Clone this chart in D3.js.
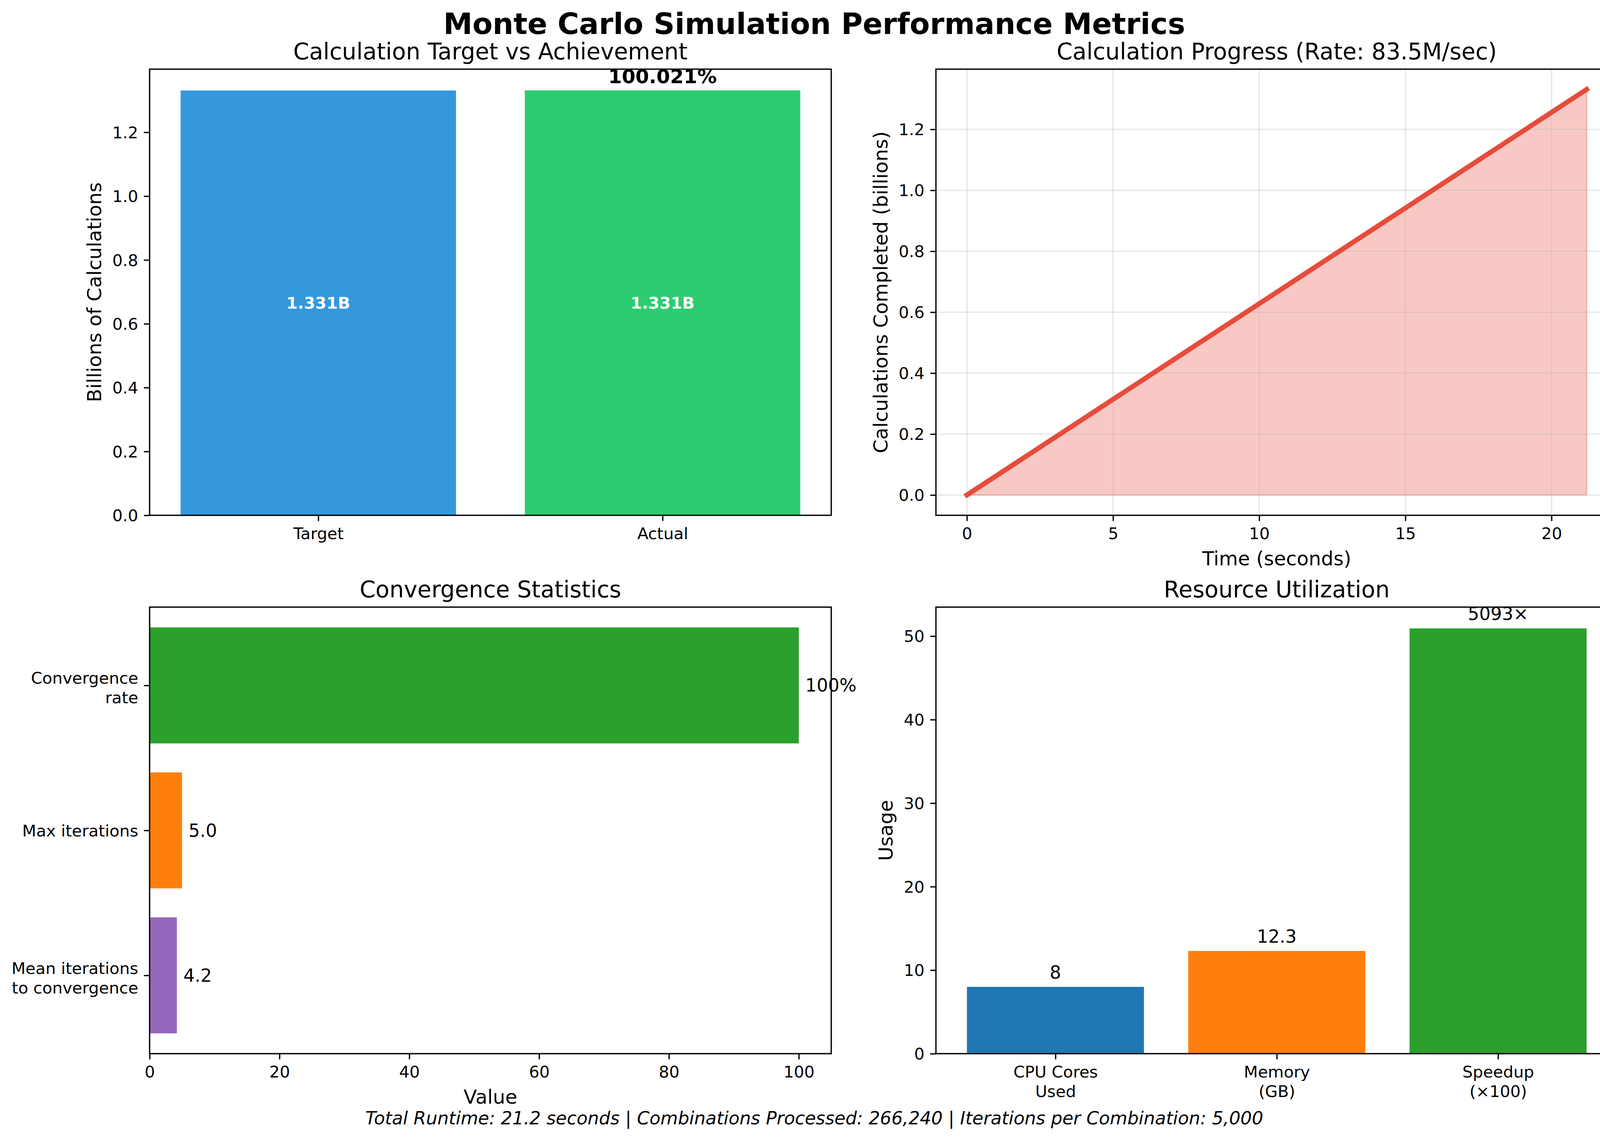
<!DOCTYPE html>
<html><head><meta charset="utf-8">
<script src="https://cdn.jsdelivr.net/npm/d3@7"></script>
<style>html,body{margin:0;padding:0;background:#fff;overflow:hidden} svg{display:block} text{font-family:"DejaVu Sans"}</style>
</head><body><svg id="c" width="4169" height="2918" viewBox="0 0 4169 2918" xmlns="http://www.w3.org/2000/svg"></svg>
<script>
// ---------- DATA ----------
const suptitle = "Monte Carlo Simulation Performance Metrics";
const footerText = "Total Runtime: 21.2 seconds | Combinations Processed: 266,240 | Iterations per Combination: 5,000";

const targetCats = ["Target", "Actual"];
const targetValues = [1.331, 1.3313];
const targetColors = ["#3498db", "#2ecc71"];
const targetBarLabels = ["1.331B", "1.331B"];
const achievementLabel = "100.021%";
const billionsTicks = [0, 0.2, 0.4, 0.6, 0.8, 1.0, 1.2];

const progressTime = [0, 21.2];
const progressCalcs = [0, 1.331];
const progressTicksX = [0, 5, 10, 15, 20];
const progressTitle = "Calculation Progress (Rate: 83.5M/sec)";

const convCats = ["Mean iterations\nto convergence", "Max iterations", "Convergence\nrate"];
const convValues = [4.2, 5.0, 100];
const convLabels = ["4.2", "5.0", "100%"];
const convColors = ["#9467bd", "#ff7f0e", "#2ca02c"];
const convTicks = [0, 20, 40, 60, 80, 100];

const resCats = ["CPU Cores\nUsed", "Memory\n(GB)", "Speedup\n(×100)"];
const resValues = [8, 12.3, 50.93];
const resLabels = ["8", "12.3", "5093×"];
const resColors = ["#1f77b4", "#ff7f0e", "#2ca02c"];
const resTicks = [0, 10, 20, 30, 40, 50];

// ---------- STYLE ----------
const PT = 300 / 72;
const FS_TICK = 10 * PT, FS_LABEL = 12 * PT, FS_TITLE = 14 * PT, FS_SUP = 18 * PT, FS_ANN = 11 * PT;
const TICK = 3.5 * PT, PAD = 3.5 * PT, LW = 0.8 * PT;

const svg = d3.select("#c");
svg.append("rect").attr("width", 4169).attr("height", 2918).attr("fill", "#fff");

const panels = {
  tl: {x0: 383, x1: 2128, y0: 177, y1: 1319},
  tr: {x0: 2396, x1: 4141, y0: 177, y1: 1319},
  bl: {x0: 383, x1: 2128, y0: 1554, y1: 2697},
  br: {x0: 2396, x1: 4141, y0: 1554, y1: 2697}
};

function styleAxis(g) {
  g.attr("font-family", "DejaVu Sans").attr("font-size", FS_TICK);
  g.select(".domain").remove();
  g.selectAll(".tick line").attr("stroke", "#000").attr("stroke-width", LW);
  g.selectAll(".tick text").attr("fill", "#000");
}
function bottomAxis(p, scale, vals, fmt) {
  const g = svg.append("g").attr("transform", `translate(0,${p.y1})`)
    .call(d3.axisBottom(scale).tickValues(vals).tickFormat(fmt).tickSize(TICK).tickPadding(PAD).tickSizeOuter(0));
  styleAxis(g);
  g.selectAll(".tick text").attr("dy", "0.76em");
  return g;
}
function leftAxis(p, scale, vals, fmt) {
  const g = svg.append("g").attr("transform", `translate(${p.x0},0)`)
    .call(d3.axisLeft(scale).tickValues(vals).tickFormat(fmt).tickSize(TICK).tickPadding(PAD).tickSizeOuter(0));
  styleAxis(g);
  g.selectAll(".tick text").attr("dy", "0.35em");
  return g;
}
function spines(p) {
  svg.append("rect").attr("x", p.x0).attr("y", p.y0).attr("width", p.x1 - p.x0).attr("height", p.y1 - p.y0)
    .attr("fill", "none").attr("stroke", "#000").attr("stroke-width", LW);
}
function title(p, t) {
  svg.append("text").attr("x", (p.x0 + p.x1) / 2).attr("y", p.y0 - 6 * PT).attr("text-anchor", "middle")
    .attr("font-size", FS_TITLE).text(t);
}
function xlabel(p, t) {
  svg.append("text").attr("x", (p.x0 + p.x1) / 2).attr("y", p.y1 + 128).attr("text-anchor", "middle")
    .attr("font-size", FS_LABEL).text(t);
}
function ylabel(p, t, bx) {
  svg.append("text").attr("transform", `translate(${bx},${(p.y0 + p.y1) / 2}) rotate(-90)`)
    .attr("text-anchor", "middle").attr("font-size", FS_LABEL).text(t);
}
function multiline(sel, firstDy) {
  sel.each(function(d) {
    const t = d3.select(this);
    const lines = t.text().split("\n");
    const x = t.attr("x") || 0;
    t.text(null);
    lines.forEach((ln, i) => t.append("tspan").attr("x", x).attr("dy", i === 0 ? firstDy : "1.2em").text(ln));
  });
}

// ---------- SUPTITLE ----------
svg.append("text").attr("x", 2084.5).attr("y", 87).attr("text-anchor", "middle")
  .attr("font-size", FS_SUP).attr("font-weight", "bold").text(suptitle);

// ---------- TOP LEFT ----------
{
  const p = panels.tl;
  const x = d3.scaleLinear().domain([-0.49, 1.49]).range([p.x0, p.x1]);
  const y = d3.scaleLinear().domain([0, d3.max(targetValues) * 1.05]).range([p.y1, p.y0]);
  svg.append("g").selectAll("rect").data(targetValues).join("rect")
    .attr("x", (d, i) => x(i - 0.4)).attr("width", x(0.4) - x(-0.4))
    .attr("y", d => y(d)).attr("height", d => y(0) - y(d))
    .attr("fill", (d, i) => targetColors[i]);
  svg.append("g").selectAll("text").data(targetValues).join("text")
    .attr("x", (d, i) => x(i)).attr("y", d => y(d / 2)).attr("dy", "0.35em")
    .attr("text-anchor", "middle").attr("font-size", FS_TICK).attr("font-weight", "bold").attr("fill", "#fff")
    .text((d, i) => targetBarLabels[i]);
  svg.append("text").attr("x", x(1)).attr("y", y(targetValues[1] + 0.022)).attr("text-anchor", "middle")
    .attr("font-size", FS_LABEL).attr("font-weight", "bold").text(achievementLabel);
  bottomAxis(p, x, [0, 1], i => targetCats[i]);
  leftAxis(p, y, billionsTicks, d3.format(".1f"));
  spines(p);
  title(p, "Calculation Target vs Achievement");
  ylabel(p, "Billions of Calculations", 259);
}

// ---------- TOP RIGHT ----------
{
  const p = panels.tr;
  const xr = d3.max(progressTime) * 0.05, yr = d3.max(progressCalcs) * 0.05;
  const x = d3.scaleLinear().domain([-xr, d3.max(progressTime) + xr]).range([p.x0, p.x1]);
  const y = d3.scaleLinear().domain([-yr, d3.max(progressCalcs) + yr]).range([p.y1, p.y0]);
  const pts = progressTime.map((t, i) => [t, progressCalcs[i]]);
  const area = d3.area().x(d => x(d[0])).y0(y(0)).y1(d => y(d[1]));
  svg.append("path").datum(pts).attr("d", area)
    .attr("fill", "#e74c3c").attr("fill-opacity", 0.3)
    .attr("stroke", "#e74c3c").attr("stroke-opacity", 0.3).attr("stroke-width", 4);
  const gg = svg.append("g").attr("stroke", "#b0b0b0").attr("stroke-opacity", 0.3).attr("stroke-width", LW);
  progressTicksX.forEach(v => gg.append("line").attr("x1", x(v)).attr("x2", x(v)).attr("y1", p.y0).attr("y2", p.y1));
  billionsTicks.forEach(v => gg.append("line").attr("x1", p.x0).attr("x2", p.x1).attr("y1", y(v)).attr("y2", y(v)));
  svg.append("path").datum(pts).attr("d", d3.line().x(d => x(d[0])).y(d => y(d[1])))
    .attr("fill", "none").attr("stroke", "#e74c3c").attr("stroke-width", 3 * PT).attr("stroke-linecap", "square");
  bottomAxis(p, x, progressTicksX, d3.format("d"));
  leftAxis(p, y, billionsTicks, d3.format(".1f"));
  spines(p);
  title(p, progressTitle);
  xlabel(p, "Time (seconds)");
  ylabel(p, "Calculations Completed (billions)", 2272);
}

// ---------- BOTTOM LEFT ----------
{
  const p = panels.bl;
  const x = d3.scaleLinear().domain([0, d3.max(convValues) * 1.05]).range([p.x0, p.x1]);
  const y = d3.scaleLinear().domain([-0.54, convCats.length - 1 + 0.54]).range([p.y1, p.y0]);
  svg.append("g").selectAll("rect").data(convValues).join("rect")
    .attr("x", x(0)).attr("width", d => x(d) - x(0))
    .attr("y", (d, i) => y(i + 0.4)).attr("height", y(-0.4) - y(0.4))
    .attr("fill", (d, i) => convColors[i]);
  svg.append("g").selectAll("text").data(convValues).join("text")
    .attr("x", d => x(d + 1)).attr("y", (d, i) => y(i)).attr("dy", "0.35em")
    .attr("font-size", FS_ANN).text((d, i) => convLabels[i]);
  bottomAxis(p, x, convTicks, d3.format("d"));
  const g = leftAxis(p, y, [0, 1, 2], i => convCats[i]);
  g.selectAll(".tick text").filter(function() { return this.textContent.includes("\n"); })
    .call(multiline, "-0.11em").attr("dy", null);
  spines(p);
  title(p, "Convergence Statistics");
  xlabel(p, "Value");
}

// ---------- BOTTOM RIGHT ----------
{
  const p = panels.br;
  const x = d3.scaleLinear().domain([-0.54, resCats.length - 1 + 0.54]).range([p.x0, p.x1]);
  const y = d3.scaleLinear().domain([0, d3.max(resValues) * 1.05]).range([p.y1, p.y0]);
  svg.append("g").selectAll("rect").data(resValues).join("rect")
    .attr("x", (d, i) => x(i - 0.4)).attr("width", x(0.4) - x(-0.4))
    .attr("y", d => y(d)).attr("height", d => y(0) - y(d))
    .attr("fill", (d, i) => resColors[i]);
  svg.append("g").selectAll("text").data(resValues).join("text")
    .attr("x", (d, i) => x(i)).attr("y", d => y(d + 0.5) - 0.236 * FS_ANN)
    .attr("text-anchor", "middle").attr("font-size", FS_ANN).text((d, i) => resLabels[i]);
  const g = bottomAxis(p, x, [0, 1, 2], i => resCats[i]);
  g.selectAll(".tick text").call(multiline, "0.76em").attr("dy", null);
  leftAxis(p, y, resTicks, d3.format("d"));
  spines(p);
  title(p, "Resource Utilization");
  ylabel(p, "Usage", 2285);
}

// ---------- FOOTER ----------
svg.append("text").attr("x", 2084.5).attr("y", 2878).attr("text-anchor", "middle")
  .attr("font-size", FS_ANN).attr("font-style", "italic").text(footerText);
</script></body></html>
